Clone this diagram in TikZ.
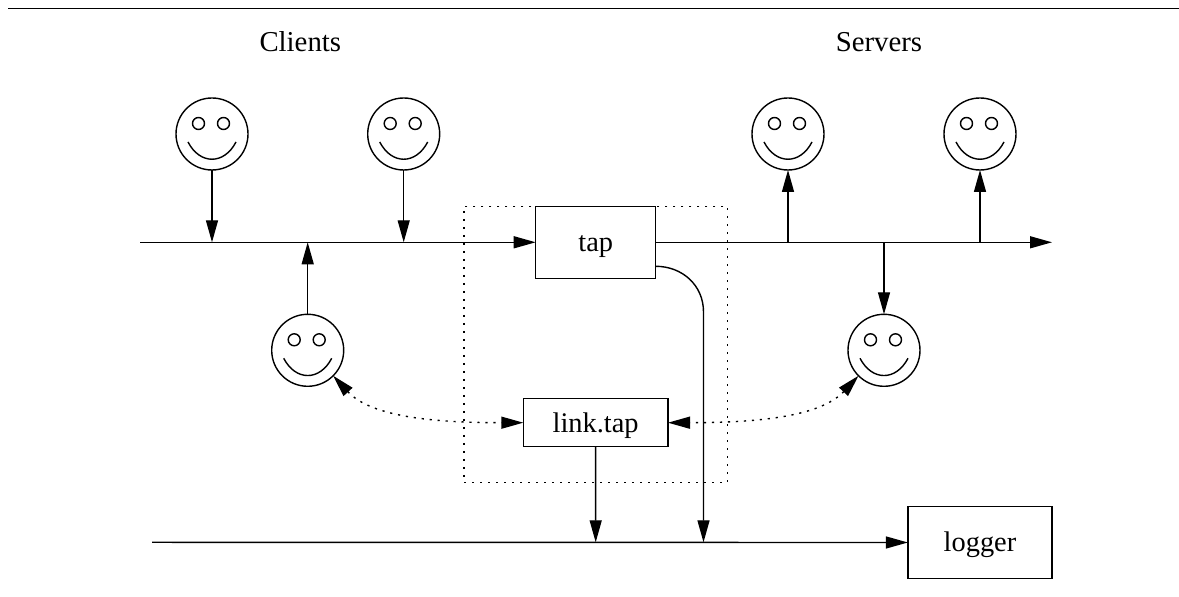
\documentclass[tikz,border=0pt]{standalone}
\usepackage{fontspec}
\setmainfont{Liberation Serif}
\usetikzlibrary{arrows.meta}
\tikzset{
  wire/.style={line width=0.7pt,draw=black},
  arrowed/.style={wire,-{Triangle[length=11pt,width=6pt]}},
  dotline/.style={wire,dash pattern=on 1.1pt off 2.9pt},
  dualarrow/.style={dotline,{Triangle[length=11pt,width=6pt]}-{Triangle[length=11pt,width=6pt]}},
  face/.style={circle,draw=black,line width=0.7pt,minimum size=36pt,inner sep=0pt,outer sep=0pt},
  boxed/.style={rectangle,draw=black,line width=0.7pt,inner sep=0pt,outer sep=0pt,
    font=\fontsize{14.2}{16}\selectfont,text height=12.4pt,text depth=3pt},
  title/.style={anchor=base,inner sep=0pt,font=\fontsize{14.4}{16}\selectfont}
}
\newcommand{\smiley}[3]{%
  \node[face] (#1) at (#2,#3) {};
  \begin{scope}[shift={(#2,#3)}]
    \draw[wire] (-13.5,-10.5) circle [radius=6];
    \draw[wire] (11.5,-10.5) circle [radius=6];
    \draw[wire] (-24,8) .. controls (-12,31) and (12,31) .. (24,8);
  \end{scope}}
\begin{document}
\begin{tikzpicture}[x=0.5pt,y=-0.5pt]
\useasboundingbox (0,0) rectangle (1179,597);
% top rule
\coordinate (ruleL) at (8,8.5);
\coordinate (ruleR) at (1179,8.5);
\draw[wire] (ruleL) -- (ruleR);
% titles
\node[title] (clients) at (300.3,51.7) {Clients};
\node[title] (servers) at (879,51.7) {Servers};
% dotted enclosure
\node[rectangle,dotline,minimum width=131.85pt,minimum height=138pt,inner sep=0pt,outer sep=0pt] (enclosure) at (595.85,344.3) {};
% boxes
\node[boxed,fill=white,minimum width=60pt,minimum height=36pt] (tap) at (595.7,242.3) {tap};
\node[boxed,fill=white,minimum width=72.35pt,minimum height=24pt] (linktap) at (595.65,422.7) {link.tap};
\node[boxed,fill=white,minimum width=72.15pt,minimum height=36pt] (logger) at (980,542.5) {logger};
% faces
\smiley{c1}{212}{134}
\smiley{c2}{403.7}{134}
\smiley{c3}{307.7}{350.3}
\smiley{s1}{788}{134}
\smiley{s2}{980}{134}
\smiley{s3}{884}{350.3}
% junction coordinates
\coordinate (busL) at (140,242.3);
\coordinate (busR) at (1052,242.3);
\coordinate (j1) at (212,242.3);
\coordinate (j2) at (403.7,242.3);
\coordinate (j3) at (307.7,242.3);
\coordinate (j4) at (788,242.3);
\coordinate (j5) at (980,242.3);
\coordinate (j6) at (884,242.3);
\coordinate (lowL) at (152,542.3);
\coordinate (j7) at (595.7,542.3);
\coordinate (j8) at (703.5,542.3);
\coordinate (bendtop) at (703.5,312);
% connectors
\draw[arrowed] (busL) -- (tap.west);
\draw[arrowed] (tap.east) -- (busR);
\draw[arrowed] (c1.south) -- (j1);
\draw[arrowed] (c2.south) -- (j2);
\draw[arrowed] (c3.north) -- (j3);
\draw[arrowed] (j4) -- (s1.south);
\draw[arrowed] (j5) -- (s2.south);
\draw[arrowed] (j6) -- (s3.north);
\draw[arrowed] (lowL) -- (logger.west);
\draw[arrowed] (linktap.south) -- (j7);
\draw[arrowed] ([yshift=-12pt]tap.east) .. controls (682,266.3) and (703.5,285) .. (bendtop) -- (j8);
\draw[dualarrow] (c3.-45) .. controls (372,418) and (440,422.7) .. (linktap.west);
\draw[dualarrow] (s3.-135) .. controls (819,418) and (751,422.7) .. (linktap.east);
\end{tikzpicture}
\end{document}
